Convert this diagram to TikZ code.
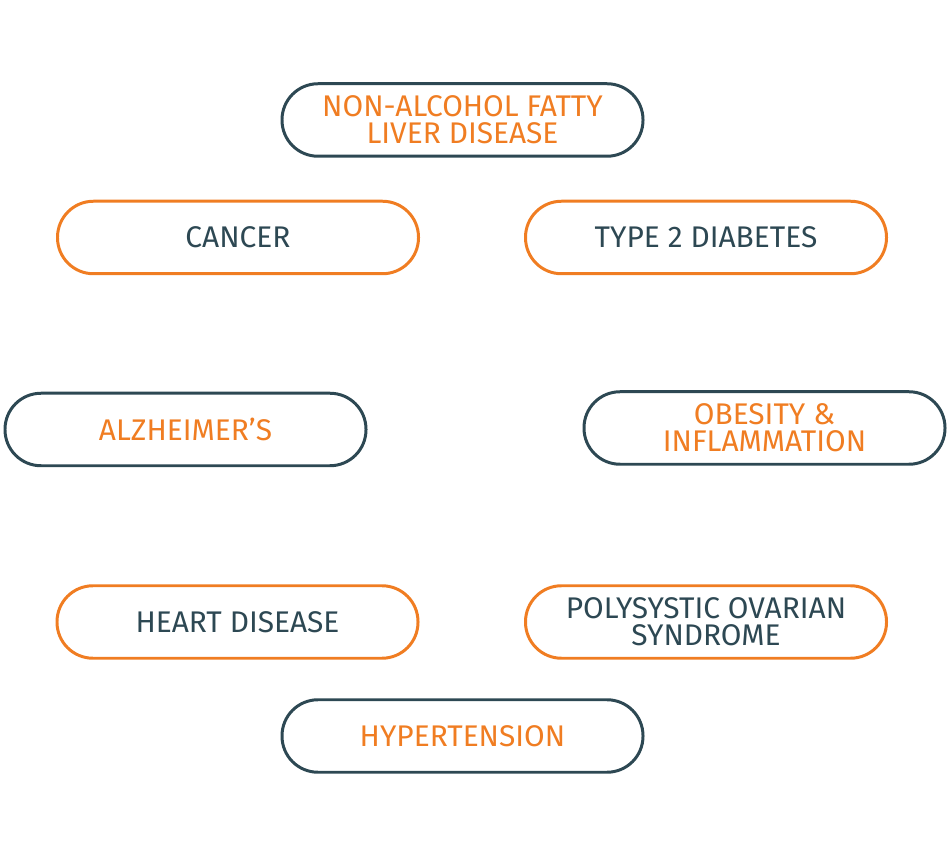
\documentclass[tikz,border=0pt]{standalone}
\usepackage{fontspec}
\setmainfont{Fira Sans}
\definecolor{slate}{HTML}{2D4853}
\definecolor{amber}{HTML}{F07D22}
\begin{document}
\begin{tikzpicture}[
	pill/.style={draw, line width=1.7pt, rounded corners=0.72cm, minimum width=7.22cm, minimum height=1.45cm, align=center, font=\fontsize{17}{15.4}\selectfont, fill=white},
	darkpill/.style={pill, draw=slate, text=amber},
	lightpill/.style={pill, draw=amber, text=slate}
	]
		\useasboundingbox (0,0) rectangle (19,16.92);
		
		% top
		\node[darkpill] (nafld) at (9.25,14.52) {NON-ALCOHOL FATTY\\LIVER DISEASE};
		
		% upper row
		\node[lightpill] (cancer)   at (4.76,12.17)  {CANCER};
		\node[lightpill] (diabetes) at (14.12,12.17) {TYPE 2 DIABETES};
		
		% middle row
		\node[darkpill] (alzheimer) at (3.71,8.33)  {ALZHEIMER’S};
		\node[darkpill] (obesity)   at (15.29,8.36) {OBESITY \&\\INFLAMMATION};
		
		% lower row
		\node[lightpill] (heart) at (4.75,4.48)  {HEART DISEASE};
		\node[lightpill] (pcos)  at (14.12,4.48) {POLYSYSTIC OVARIAN\\SYNDROME};
		
		% bottom
		\node[darkpill] (hyper) at (9.25,2.2) {HYPERTENSION};
	\end{tikzpicture}
\end{document}
